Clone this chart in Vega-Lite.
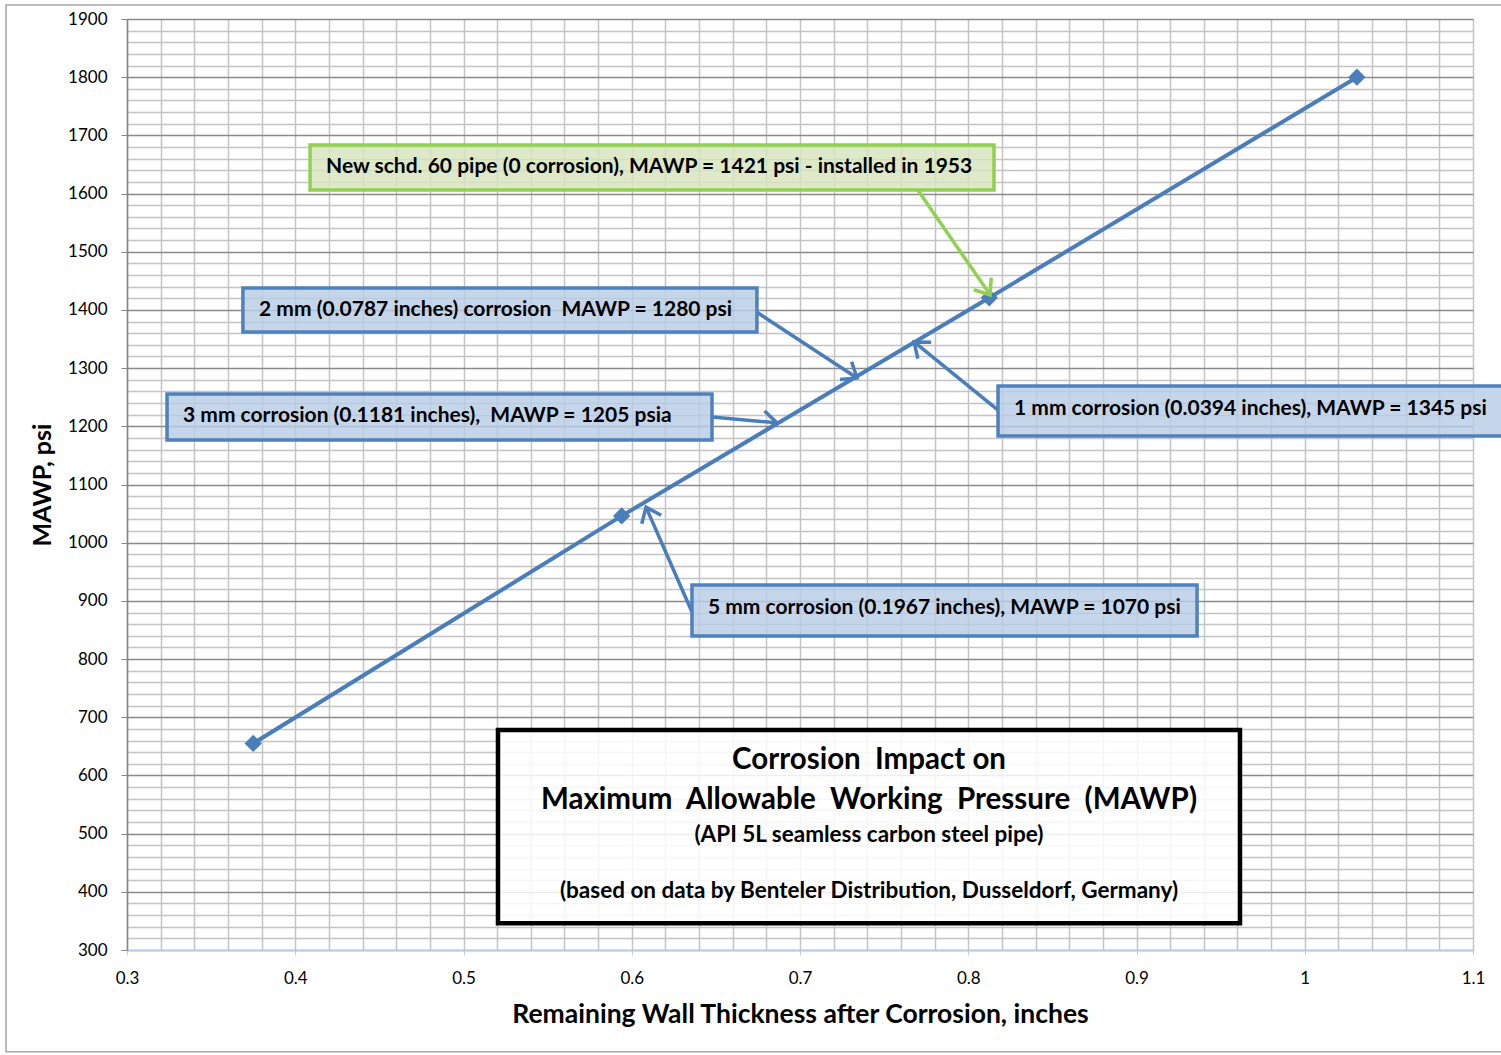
{
  "$schema": "https://vega.github.io/schema/vega-lite/v6.json",
  "width": 1346,
  "height": 931,
  "autosize": {"type": "none"},
  "padding": {"left": 127, "top": 19, "right": 28, "bottom": 105},
  "background": "white",
  "config": {
    "font": "Lato",
    "view": {"stroke": null}
  },
  "datasets": {
    "frame": [{"x": 0.2281, "x2": 1.2, "y": 1924, "y2": 125}],
    "curve": [
      {"x": 0.375, "y": 655},
      {"x": 0.594, "y": 1046},
      {"x": 0.8125, "y": 1421},
      {"x": 1.031, "y": 1800}
    ],
    "blueBoxes": [
      {"name": "2mm", "x": 0.3689, "x2": 0.6744, "y": 1437.7, "y2": 1362},
      {"name": "3mm", "x": 0.3238, "x2": 0.6477, "y": 1255.5, "y2": 1176.5},
      {"name": "1mm", "x": 0.8177, "x2": 1.13, "y": 1269.3, "y2": 1183.4},
      {"name": "5mm", "x": 0.6358, "x2": 0.936, "y": 927.3, "y2": 839.6}
    ],
    "greenBoxes": [
      {"name": "new", "x": 0.4088, "x2": 0.8153, "y": 1683.5, "y2": 1606}
    ],
    "titleBox": [
      {"name": "title", "x": 0.5205, "x2": 0.9615, "y": 678, "y2": 346}
    ],
    "arrows": [
      {"name": "new", "x": 0.77, "y": 1606, "x2": 0.813, "y2": 1426},
      {"name": "2mm", "x": 0.6744, "y": 1396, "x2": 0.7339, "y2": 1283},
      {"name": "3mm", "x": 0.6477, "y": 1216, "x2": 0.6863, "y2": 1206},
      {"name": "1mm", "x": 0.8177, "y": 1228, "x2": 0.7678, "y2": 1345},
      {"name": "5mm", "x": 0.6358, "y": 881, "x2": 0.6085, "y2": 1061}
    ],
    "notes": [
      {"name": "new", "x": 0.4183, "y": 1645.6, "label": "New schd. 60 pipe (0 corrosion), MAWP = 1421 psi - installed in 1953"},
      {"name": "2mm", "x": 0.3785, "y": 1399.9, "label": "2 mm (0.0787 inches) corrosion\u00a0 MAWP = 1280 psi"},
      {"name": "3mm", "x": 0.3333, "y": 1217.7, "label": "3 mm corrosion (0.1181 inches),\u00a0 MAWP = 1205 psia"},
      {"name": "1mm", "x": 0.8272, "y": 1229.7, "label": "1 mm corrosion (0.0394 inches), MAWP = 1345 psi"},
      {"name": "5mm", "x": 0.6453, "y": 887.7, "label": "5 mm corrosion (0.1967 inches), MAWP = 1070 psi"}
    ],
    "titleBig": [
      {"x": 0.741, "y": 626.5, "label": "Corrosion\u00a0 Impact on"},
      {"x": 0.741, "y": 557.8, "label": "Maximum\u00a0 Allowable\u00a0 Working\u00a0 Pressure\u00a0 (MAWP)"}
    ],
    "titleSmall": [
      {"x": 0.741, "y": 497.6, "label": "(API 5L seamless carbon steel pipe)"},
      {"x": 0.741, "y": 401.4, "label": "(based on data by Benteler Distribution, Dusseldorf, Germany)"}
    ]
  },
  "encoding": {
    "x": {
      "field": "x",
      "type": "quantitative",
      "scale": {"domain": [0.3, 1.1], "nice": false, "zero": false},
      "axis": {
        "title": "Remaining Wall Thickness after Corrosion, inches",
        "titleFont": "Lato",
        "titleFontSize": 26.5,
        "titleFontWeight": "bold",
        "titleColor": "#000000",
        "titlePadding": 15,
        "values": [0.3,0.32,0.34,0.36,0.38,0.4,0.42,0.44,0.46,0.48,0.5,0.52,0.54,0.56,0.58,0.6,0.62,0.64,0.66,0.68,0.7,0.72,0.74,0.76,0.78,0.8,0.82,0.84,0.86,0.88,0.9,0.92,0.94,0.96,0.98,1.0,1.02,1.04,1.06,1.08,1.1],
        "labelExpr": "abs(datum.value*10 - round(datum.value*10)) < 0.001 ? format(datum.value, '.1~f') : ''",
        "labelFontSize": 17,
        "labelColor": "#000000",
        "labelPadding": 15,
        "labelFlush": false,
        "labelOverlap": false,
        "grid": true,
        "gridColor": "#c4c4c4",
        "gridWidth": 1.5,
        "gridOpacity": 1,
        "domainColor": "#b9cde5",
        "domainWidth": 1.5,
        "tickColor": "#b9cde5",
        "tickSize": 5,
        "tickOpacity": {"condition": {"test": "abs(datum.value*10 - round(datum.value*10)) < 0.001", "value": 1}, "value": 0}
      }
    },
    "y": {
      "field": "y",
      "type": "quantitative",
      "scale": {"domain": [300, 1900], "nice": false, "zero": false},
      "axis": {
        "title": "MAWP, psi",
        "titleFont": "Lato",
        "titleFontSize": 25,
        "titleFontWeight": "bold",
        "titleColor": "#000000",
        "titlePadding": 12,
        "values": [300,320,340,360,380,400,420,440,460,480,500,520,540,560,580,600,620,640,660,680,700,720,740,760,780,800,820,840,860,880,900,920,940,960,980,1000,1020,1040,1060,1080,1100,1120,1140,1160,1180,1200,1220,1240,1260,1280,1300,1320,1340,1360,1380,1400,1420,1440,1460,1480,1500,1520,1540,1560,1580,1600,1620,1640,1660,1680,1700,1720,1740,1760,1780,1800,1820,1840,1860,1880,1900],
        "labelExpr": "datum.value % 100 === 0 ? datum.label : ''",
        "format": "d",
        "labelFontSize": 17,
        "labelColor": "#000000",
        "labelPadding": 14,
        "labelOverlap": false,
        "labelFlush": false,
        "grid": true,
        "gridColor": {"condition": {"test": "datum.value % 100 === 0", "value": "#8a8a8a"}, "value": "#c4c4c4"},
        "gridWidth": 1.5,
        "gridOpacity": 1,
        "domainColor": "#868686",
        "domainWidth": 1.5,
        "tickColor": "#868686",
        "tickSize": 6,
        "tickOpacity": {"condition": {"test": "datum.value % 100 === 0", "value": 1}, "value": 0}
      }
    }
  },
  "layer": [
    {
      "data": {"name": "frame"},
      "mark": {"type": "rect", "fill": null, "stroke": "#a6a6a6", "strokeWidth": 1.5, "clip": false},
      "encoding": {"x2": {"field": "x2"}, "y2": {"field": "y2"}}
    },
    {
      "data": {"name": "curve"},
      "mark": {"type": "line", "color": "#4a7ebb", "strokeWidth": 4}
    },
    {
      "data": {"name": "curve"},
      "mark": {"type": "point", "shape": "diamond", "filled": true, "color": "#4a7ebb", "size": 300, "opacity": 1}
    },
    {
      "data": {"name": "arrows"},
      "mark": {"type": "rule", "strokeWidth": 3.5},
      "encoding": {
        "x2": {"field": "x2"},
        "y2": {"field": "y2"},
        "color": {"field": "name", "type": "nominal", "scale": {"domain": ["new", "2mm", "3mm", "1mm", "5mm"], "range": ["#92d050", "#4a7ebb", "#4a7ebb", "#4a7ebb", "#4a7ebb"]}, "legend": null}
      }
    },
    {
      "data": {"name": "arrows"},
      "transform": [{"filter": "datum.name === 'new'"}],
      "mark": {"type": "point", "shape": "M-0.75,0.95L0,0L0.75,0.95", "filled": false, "strokeWidth": 3.5, "size": 800, "opacity": 1, "strokeJoin": "miter", "strokeCap": "butt", "color": "#92d050", "angle": 145.4},
      "encoding": {"x": {"field": "x2", "type": "quantitative"}, "y": {"field": "y2", "type": "quantitative"}}
    },
    {
      "data": {"name": "arrows"},
      "transform": [{"filter": "datum.name === '2mm'"}],
      "mark": {"type": "point", "shape": "M-0.75,0.95L0,0L0.75,0.95", "filled": false, "strokeWidth": 3.5, "size": 800, "opacity": 1, "strokeJoin": "miter", "strokeCap": "butt", "color": "#4a7ebb", "angle": 123.3},
      "encoding": {"x": {"field": "x2", "type": "quantitative"}, "y": {"field": "y2", "type": "quantitative"}}
    },
    {
      "data": {"name": "arrows"},
      "transform": [{"filter": "datum.name === '3mm'"}],
      "mark": {"type": "point", "shape": "M-0.75,0.95L0,0L0.75,0.95", "filled": false, "strokeWidth": 3.5, "size": 800, "opacity": 1, "strokeJoin": "miter", "strokeCap": "butt", "color": "#4a7ebb", "angle": 95.1},
      "encoding": {"x": {"field": "x2", "type": "quantitative"}, "y": {"field": "y2", "type": "quantitative"}}
    },
    {
      "data": {"name": "arrows"},
      "transform": [{"filter": "datum.name === '1mm'"}],
      "mark": {"type": "point", "shape": "M-0.75,0.95L0,0L0.75,0.95", "filled": false, "strokeWidth": 3.5, "size": 800, "opacity": 1, "strokeJoin": "miter", "strokeCap": "butt", "color": "#4a7ebb", "angle": 309},
      "encoding": {"x": {"field": "x2", "type": "quantitative"}, "y": {"field": "y2", "type": "quantitative"}}
    },
    {
      "data": {"name": "arrows"},
      "transform": [{"filter": "datum.name === '5mm'"}],
      "mark": {"type": "point", "shape": "M-0.75,0.95L0,0L0.75,0.95", "filled": false, "strokeWidth": 3.5, "size": 800, "opacity": 1, "strokeJoin": "miter", "strokeCap": "butt", "color": "#4a7ebb", "angle": 336.3},
      "encoding": {"x": {"field": "x2", "type": "quantitative"}, "y": {"field": "y2", "type": "quantitative"}}
    },
    {
      "data": {"name": "blueBoxes"},
      "mark": {"type": "rect", "fill": "#b9cde5", "fillOpacity": 0.82, "stroke": "#4f81bd", "strokeWidth": 3.5, "clip": false},
      "encoding": {"x2": {"field": "x2"}, "y2": {"field": "y2"}}
    },
    {
      "data": {"name": "greenBoxes"},
      "mark": {"type": "rect", "fill": "#d7e4bd", "fillOpacity": 0.82, "stroke": "#92d050", "strokeWidth": 3.5},
      "encoding": {"x2": {"field": "x2"}, "y2": {"field": "y2"}}
    },
    {
      "data": {"name": "titleBox"},
      "mark": {"type": "rect", "fill": "#ffffff", "fillOpacity": 0.85, "stroke": "#000000", "strokeWidth": 4.5},
      "encoding": {"x2": {"field": "x2"}, "y2": {"field": "y2"}}
    },
    {
      "data": {"name": "notes"},
      "mark": {"type": "text", "align": "left", "baseline": "middle", "font": "Lato", "fontSize": 21, "fontWeight": "bold", "color": "#000000", "clip": false},
      "encoding": {"text": {"field": "label"}}
    },
    {
      "data": {"name": "titleBig"},
      "mark": {"type": "text", "align": "center", "baseline": "middle", "font": "Lato", "fontSize": 29.5, "fontWeight": "bold", "color": "#000000"},
      "encoding": {"text": {"field": "label"}}
    },
    {
      "data": {"name": "titleSmall"},
      "mark": {"type": "text", "align": "center", "baseline": "middle", "font": "Lato", "fontSize": 22.5, "fontWeight": "bold", "color": "#000000"},
      "encoding": {"text": {"field": "label"}}
    }
  ]
}
